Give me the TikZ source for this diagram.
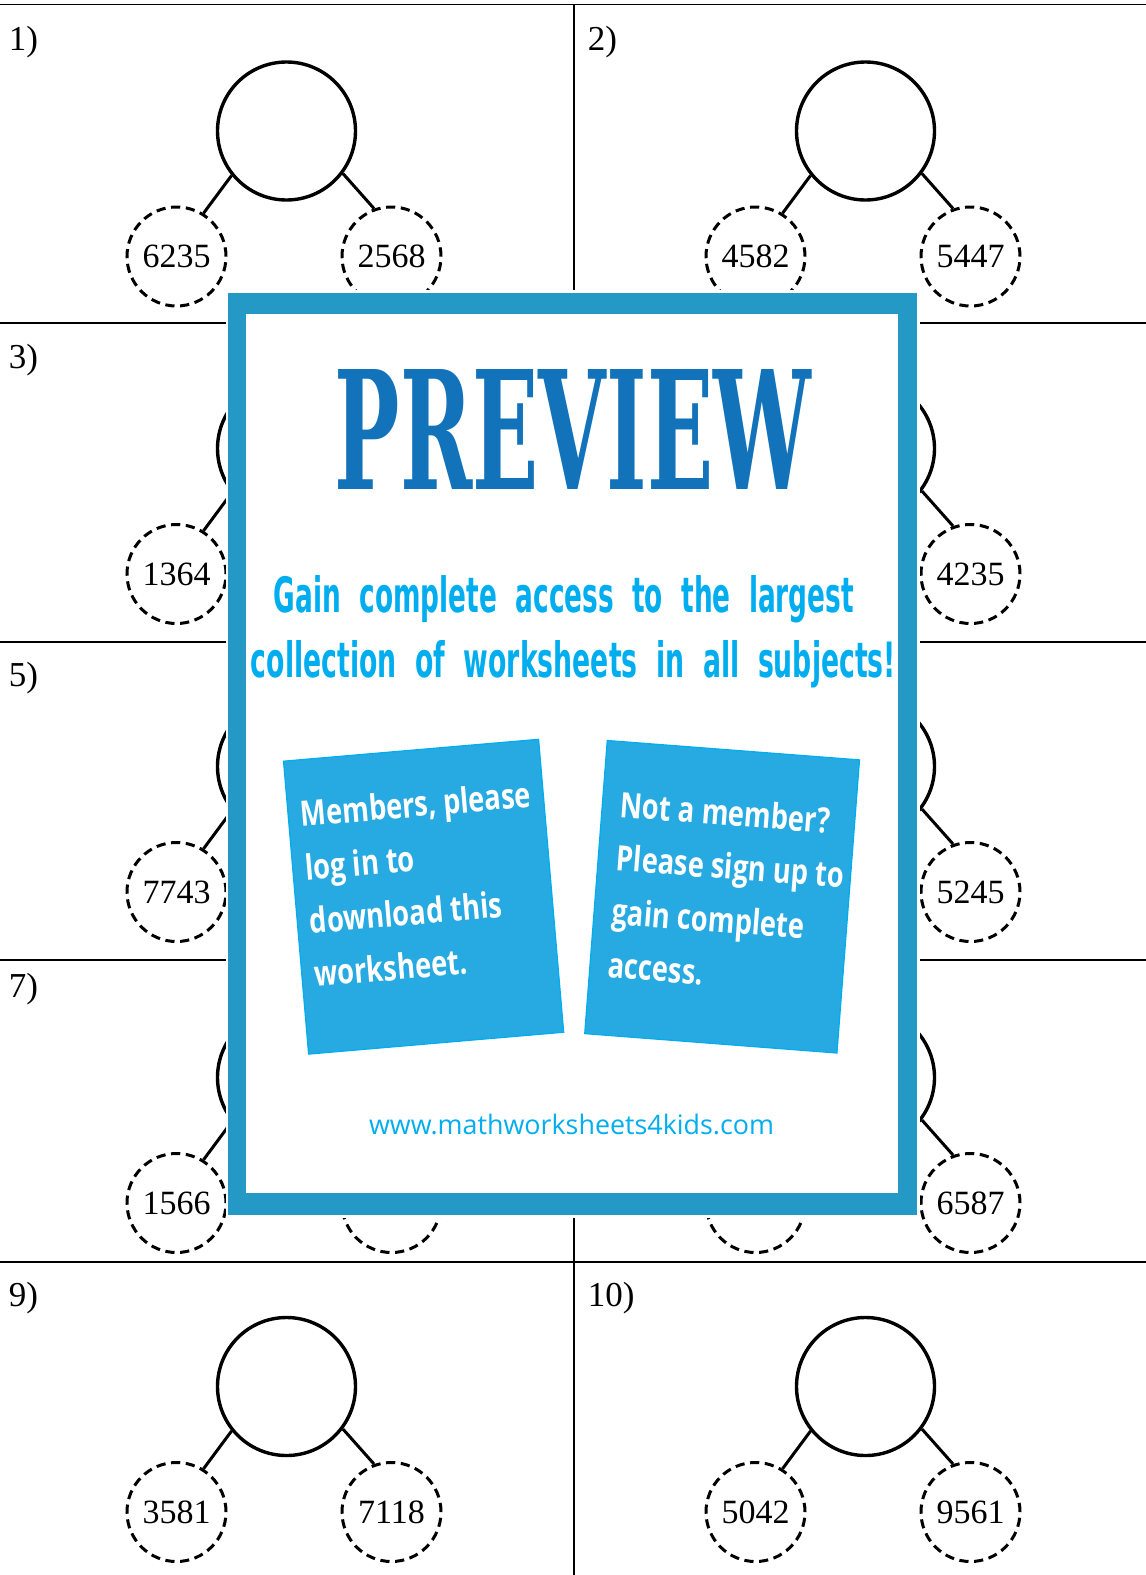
\documentclass[tikz,border=0pt]{standalone}
\usepackage{fontspec}
\usepackage{graphicx}
\setmainfont{Liberation Serif}
\newfontfamily\titlefont{DejaVu Serif}
\newfontfamily\gainfont[WordSpace=2]{DejaVu Sans}
\newfontfamily\cardfont[FakeStretch=0.78]{Open Sans}
\newfontfamily\urlfont{Open Sans}
\definecolor{framecol}{HTML}{2599C6}
\definecolor{titlecol}{HTML}{1273BA}
\definecolor{gaincol}{HTML}{00AEEF}
\definecolor{cardcol}{HTML}{27A9E1}
\tikzset{
  bigc/.style={circle, draw, line width=1.7pt, minimum size=69pt, inner sep=0pt},
  smallc/.style={circle, draw, dash pattern=on 4.6pt off 2.8pt, line width=1.5pt,
    minimum size=49.5pt, inner sep=0pt, font=\fontsize{17}{18}\selectfont},
  link/.style={line width=1.5pt},
  gridline/.style={line width=0.9pt},
  card/.style={fill=cardcol, draw=gaincol, line width=0.6pt, minimum width=128pt,
    minimum height=147pt, inner sep=0pt, align=left, text=white,
    font=\cardfont\bfseries\fontsize{17.5}{26.8}\selectfont},
}
\begin{document}
\begin{tikzpicture}[x=0.5pt, y=-0.5pt]
\useasboundingbox (0,0) rectangle (1146,1575);
% grid of the sheet
\draw[gridline] (0,4.5) -- (1146,4.5);
\draw[gridline] (0,323.3) -- (1146,323.3);
\draw[gridline] (0,641.7) -- (1146,641.7);
\draw[gridline] (0,960) -- (1146,960);
\draw[gridline] (0,1261.6) -- (1146,1261.6);
\draw[gridline] (574,4.5) -- (574,1575);
% the ten problems
\foreach \n/\x/\y/\lab/\a/\b in {1/0/0/1)/6235/2568, 2/579/0/2)/4582/5447,
  3/0/317.5/3)/1364/{}, 4/579/317.5/{}/{}/4235,
  5/0/635.5/5)/7743/{}, 6/579/635.5/{}/{}/5245,
  7/0/946.5/7)/1566/{}, 8/579/946.5/{}/{}/6587,
  9/0/1255.5/9)/3581/7118, 10/579/1255.5/10)/5042/9561}{
  \node[anchor=base west, inner sep=0pt, font=\fontsize{17.5}{18}\selectfont] (lab\n) at (8.5+\x,50.5+\y) {\lab};
  \node[bigc] (big\n) at (286.5+\x,131+\y) {};
  \node[smallc] (l\n) at (176.5+\x,256.5+\y) {\a};
  \node[smallc] (r\n) at (391.5+\x,256.5+\y) {\b};
  \draw[link] (big\n.219) -- (l\n.58);
  \draw[link] (big\n.323) -- (r\n.110);
}
% preview overlay
\fill[white] (225.5,289.7) rectangle (919.5,1218);
\fill[framecol] (228.3,292.7) rectangle (916.7,1215);
\fill[white] (246,314) rectangle (898.3,1193.3);
\node[anchor=base, inner sep=0pt, text=titlecol] (title) at (573,489)
  {\resizebox{238pt}{60pt}{\titlefont\bfseries PREVIEW}};
\node[anchor=base, inner sep=0pt, text=gaincol] (gain1) at (564,612)
  {\resizebox{290pt}{18.5pt}{\gainfont\bfseries Gain complete access to the largest}};
\node[anchor=base, inner sep=0pt, text=gaincol] (gain2) at (573.5,677)
  {\resizebox{322.5pt}{18.5pt}{\gainfont\bfseries collection of worksheets in all subjects!}};
\node[card, rotate=4.9, text depth=13pt] (member) at (423.6,896.7)
  {Members, please\\log in to\\download this\\worksheet.};
\node[card, rotate=-4.4, text depth=4.5pt, minimum width=126.5pt] (signup) at (722.1,896.75)
  {\hspace*{6pt}Not a member?\\\hspace*{6pt}Please sign up to\\\hspace*{6pt}gain complete\\\hspace*{6pt}access.};
\node[anchor=base, inner sep=0pt, text=gaincol] (url) at (571.5,1134)
  {\resizebox{202.5pt}{!}{\urlfont www.mathworksheets4kids.com}};
\end{tikzpicture}
\end{document}
